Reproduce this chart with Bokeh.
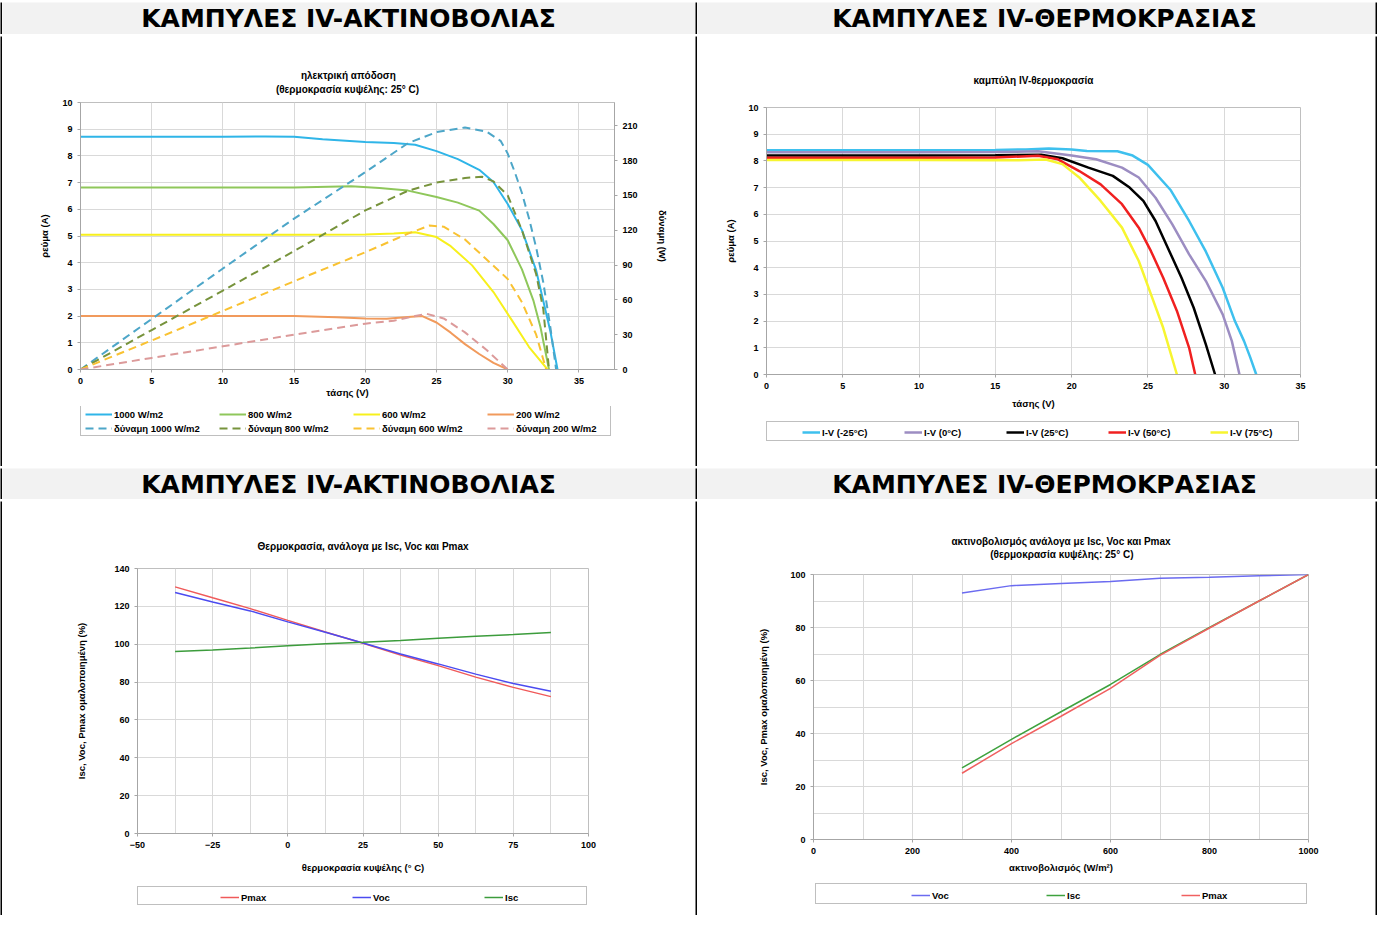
from bokeh.plotting import figure
from bokeh.layouts import column, row
from bokeh.models import (Range1d, LinearAxis, Legend, LegendItem, Label,
                          SingleIntervalTicker, Spacer)
from bokeh.embed import file_html
from bokeh.resources import INLINE

# ---------------- data: chart 1 (IV vs irradiance, 25 C) ----------------
v_1000 = [0, 5, 10, 13, 15, 17, 20, 22, 23.5, 25, 26.5, 28, 29, 30, 31, 32, 33, 33.5]
i_1000 = [8.72, 8.72, 8.72, 8.73, 8.72, 8.62, 8.52, 8.48, 8.42, 8.18, 7.88, 7.48, 7.02, 6.2, 5.22, 3.71, 1.42, 0.0]
v_800 = [0, 5, 10, 15, 19, 21, 23, 25, 26.5, 28, 29, 30, 31, 31.8, 32.3, 32.9]
i_800 = [6.82, 6.82, 6.82, 6.82, 6.86, 6.8, 6.7, 6.46, 6.25, 5.95, 5.45, 4.84, 3.75, 2.59, 1.59, 0.0]
v_600 = [0, 5, 10, 15, 20, 22, 23.5, 25, 26, 27.5, 29, 30.3, 31.5, 32.8]
i_600 = [5.05, 5.05, 5.05, 5.05, 5.06, 5.09, 5.14, 4.96, 4.62, 3.9, 2.9, 1.84, 0.84, 0.0]
v_200 = [0, 5, 10, 15, 18, 20, 21.5, 23, 24, 25, 26, 27, 28, 29, 30]
i_200 = [2.0, 2.0, 2.0, 2.0, 1.96, 1.91, 1.9, 1.97, 2.0, 1.76, 1.38, 0.95, 0.58, 0.25, 0.0]

pv_1000 = [0, 5, 10, 15, 20, 23, 25, 27, 28.5, 29.5, 30, 30.5, 31, 31.5, 32, 32.5, 33, 33.4]
pw_1000 = [0, 43.5, 87, 130, 170, 195, 204.5, 208.5, 205, 197, 186, 170, 152, 130, 105, 75, 36, 0]
pv_800 = [0, 5, 10, 15, 20, 23, 25, 27, 28.2, 29, 30, 31, 32, 32.5, 32.9]
pw_800 = [0, 34, 68, 102, 137, 154, 161, 165, 166, 162, 150, 120, 82, 52, 0]
pv_600 = [0, 5, 10, 15, 20, 23, 24.5, 25.5, 27, 28.5, 30, 31, 32, 32.7]
pw_600 = [0, 25, 50.5, 76, 101, 117, 124, 123, 112, 95, 78, 58, 30, 0]
pv_200 = [0, 5, 10, 15, 20, 22, 23.5, 24.3, 25.5, 27, 28.5, 30]
pw_200 = [0, 10, 20, 30, 39.5, 42, 46, 48, 44, 32, 17, 0]

# ---------------- data: chart 2 (IV vs temperature) ----------------
v_m25 = [0, 5, 10, 15, 17, 18.5, 20, 21, 23, 24, 25, 26.5, 27.7, 28.8, 29.9, 30.7, 31.3, 31.7, 32.1]
i_m25 = [8.4, 8.4, 8.4, 8.41, 8.43, 8.46, 8.43, 8.37, 8.36, 8.2, 7.85, 6.9, 5.75, 4.6, 3.25, 2.0, 1.25, 0.65, 0.0]
v_0 = [0, 5, 10, 15, 17.8, 20, 21.6, 23.3, 24.4, 25.5, 26.6, 27.7, 28.8, 29.9, 30.5, 31]
i_0 = [8.32, 8.32, 8.32, 8.33, 8.36, 8.2, 8.06, 7.75, 7.38, 6.62, 5.62, 4.5, 3.5, 2.25, 1.25, 0.0]
v_25 = [0, 5, 10, 15, 18, 19.4, 21.1, 22.7, 23.8, 24.7, 25.5, 26.3, 27.2, 28, 28.8, 29.4]
i_25 = [8.2, 8.2, 8.2, 8.21, 8.23, 8.1, 7.75, 7.44, 7.0, 6.5, 5.75, 4.75, 3.62, 2.5, 1.12, 0.0]
v_50 = [0, 5, 10, 15, 17.8, 19.1, 20.5, 21.9, 23.3, 24.4, 25.2, 26, 26.9, 27.7, 28.1]
i_50 = [8.12, 8.12, 8.12, 8.13, 8.19, 8.06, 7.62, 7.12, 6.38, 5.5, 4.62, 3.62, 2.38, 1.0, 0.0]
v_75 = [0, 5, 10, 15, 16.5, 18.3, 19.4, 20.5, 21.9, 23.3, 24.4, 25.2, 26, 26.9]
i_75 = [8.03, 8.03, 8.03, 8.02, 8.02, 8.05, 7.88, 7.38, 6.5, 5.5, 4.25, 3.0, 1.75, 0.0]

# ---------------- data: chart 3 (normalised vs temperature) ----------------
temp = [-37.5, -25, -12.5, 0, 12.5, 25, 37.5, 50, 62.5, 75, 87.5]
pmax_t = [130.3, 124.5, 118.8, 112.6, 106.5, 100.5, 94.3, 88.7, 82.6, 77.2, 72.3]
voc_t = [127.3, 122.3, 117.6, 111.8, 106.3, 100.6, 94.8, 89.6, 84.2, 79.2, 75.1]
isc_t = [96.2, 97.0, 98.0, 99.2, 100.2, 101.0, 101.9, 103.2, 104.2, 105.1, 106.2]

# ---------------- data: chart 4 (normalised vs irradiance) ----------------
irr = [300, 400, 500, 600, 700, 800, 900, 1000]
voc_g = [93.0, 95.8, 96.6, 97.4, 98.6, 99.0, 99.5, 100]
isc_g = [27.0, 37.8, 48.2, 58.5, 69.8, 80.0, 90.0, 100]
pmax_g = [25.0, 36.2, 46.5, 57.0, 69.5, 79.8, 90.0, 100]

HEAD_L = "ΚΑΜΠΥΛΕΣ IV-ΑΚΤΙΝΟΒΟΛΙΑΣ"
HEAD_R = "ΚΑΜΠΥΛΕΣ IV-ΘΕΡΜΟΚΡΑΣΙΑΣ"

FONT = "Liberation Sans"
GRID = "#d9d9d9"
AXIS = "#a6a6a6"
DASH = "8 5"
NB = "\u00a0"
TICK_FS = "9px"
LABEL_FS = "9.5px"
TITLE_FS = "10px"

S1 = [dict(line_color="#2fb5e8", line_width=2), dict(line_color="#8fc75b", line_width=2),
      dict(line_color="#f7f01c", line_width=2), dict(line_color="#f19a5c", line_width=2),
      dict(line_color="#4da6c8", line_width=2, line_dash=DASH),
      dict(line_color="#77933c", line_width=2, line_dash=DASH),
      dict(line_color="#f9c232", line_width=2, line_dash=DASH),
      dict(line_color="#dc9a9a", line_width=2, line_dash=DASH)]
S2 = [dict(line_color=c, line_width=2.5) for c in
      ["#3ec0ee", "#9c8dc2", "#000000", "#f02020", "#f7f530"]]
S3 = [dict(line_color=c, line_width=1.5) for c in ["#f05a5a", "#4b4bf0", "#3c9c3c"]]
S4 = [dict(line_color=c, line_width=1.5) for c in ["#6b6bf0", "#3ea23e", "#f06060"]]


def plain(w, h, color, left=0, right=0):
    f = figure(width=w, height=h, min_border=0, min_border_left=left,
               min_border_right=right, toolbar_location=None,
               output_backend="svg", x_range=Range1d(0, 1), y_range=Range1d(0, 1),
               x_axis_type=None, y_axis_type=None,
               background_fill_color=color, border_fill_color=color,
               outline_line_color=None)
    f.xgrid.visible = False
    f.ygrid.visible = False
    return f


def bar(w, h):
    return plain(w, h, "black")


def header(w, h, text, cx):
    f = plain(w, h, "#f2f2f2")
    f.add_layout(Label(x=cx, y=h / 2, x_units="screen", y_units="screen",
                       text=text, text_align="center",
                       text_baseline="middle", text_font="DejaVu Sans",
                       text_font_style="bold", text_font_size="25px",
                       text_color="black"))
    return f


def style_axis(ax, label, standoff, tick_standoff=4):
    ax.axis_label = label
    ax.axis_label_text_font = FONT
    ax.axis_label_text_font_style = "bold"
    ax.axis_label_text_font_size = LABEL_FS
    ax.axis_label_text_color = "black"
    ax.axis_label_standoff = standoff
    ax.major_label_text_font = FONT
    ax.major_label_text_font_style = "bold"
    ax.major_label_text_font_size = TICK_FS
    ax.major_label_text_color = "black"
    ax.major_label_standoff = tick_standoff
    ax.axis_line_color = AXIS
    ax.major_tick_line_color = AXIS
    ax.major_tick_in = 0
    ax.major_tick_out = 3
    ax.minor_tick_line_color = None


def chart(w, h, left, right, top, bottom, xr, yr, title, standoff, lh=1.2):
    p = figure(width=w, height=h, min_border_left=left, min_border_right=right,
               min_border_top=top, min_border_bottom=bottom,
               x_range=Range1d(*xr), y_range=Range1d(*yr), title=title,
               toolbar_location=None, output_backend="svg",
               background_fill_color="white", border_fill_color="white",
               outline_line_color="#bfbfbf")
    p.title.align = "center"
    p.title.text_font = FONT
    p.title.text_font_style = "bold"
    p.title.text_font_size = TITLE_FS
    p.title.text_color = "black"
    p.title.text_line_height = lh
    p.title.standoff = standoff
    p.xgrid.grid_line_color = GRID
    p.ygrid.grid_line_color = GRID
    return p


def legend_fig(w, h, left, right, labels, styles, firsts, ncols, loc, glyph_w, label_w, box):
    """Legend strip under a chart: its frame is aligned with the chart frame."""
    f = plain(w, h, "white", left, right)
    # one-point proxies (a single point draws no line) carry the legend styles
    rs = [f.line(x=[fx], y=[fy], **s) for (fx, fy), s in zip(firsts, styles)]
    bx, by, bw, bh = box
    f.add_layout(Legend(items=[LegendItem(label=" ", renderers=[rs[0]])],
                        location=(bx, by), padding=0, margin=0, spacing=0,
                        glyph_width=0, glyph_height=bh, label_width=bw,
                        label_height=bh, label_standoff=0,
                        border_line_color="#7f7f7f", border_line_width=1,
                        background_fill_color="white", background_fill_alpha=1.0,
                        label_text_font_size="1px"))
    f.add_layout(Legend(items=[LegendItem(label=t, renderers=[r]) for t, r in zip(labels, rs)],
                        location=loc, orientation="horizontal", ncols=ncols,
                        padding=0, margin=0, spacing=2,
                        glyph_width=glyph_w, glyph_height=12, label_height=12,
                        label_width=label_w, label_standoff=2,
                        border_line_color=None, background_fill_alpha=0,
                        label_text_font=FONT, label_text_font_style="bold",
                        label_text_font_size=LABEL_FS, label_text_color="black"))
    return f


# ---------------- chart 1 ----------------
p1 = chart(693, 370, 78, 81, 66, 37, (0, 37.5), (0, 10),
           NB * 9 + "ηλεκτρική απόδοση\n(θερμοκρασία κυψέλης: 25° C)", 15, 1.3)
p1.extra_y_ranges = {"power": Range1d(0, 230)}
p1.xaxis.ticker = SingleIntervalTicker(interval=5)
p1.yaxis.ticker = SingleIntervalTicker(interval=1)
style_axis(p1.xaxis[0], "τάσης (V)", 0, 4)
style_axis(p1.yaxis[0], "ρεύμα (A)", 9)
rax = LinearAxis(y_range_name="power", ticker=SingleIntervalTicker(interval=30))
style_axis(rax, "δύναμη (W)", 16)
p1.add_layout(rax, "right")
p1.line(v_1000, i_1000, **S1[0])
p1.line(v_800, i_800, **S1[1])
p1.line(v_600, i_600, **S1[2])
p1.line(v_200, i_200, **S1[3])
p1.line(pv_1000, pw_1000, y_range_name="power", **S1[4])
p1.line(pv_800, pw_800, y_range_name="power", **S1[5])
p1.line(pv_600, pw_600, y_range_name="power", **S1[6])
p1.line(pv_200, pw_200, y_range_name="power", **S1[7])
L1 = ["1000 W/m2", "800 W/m2", "600 W/m2", "200 W/m2",
      "δύναμη 1000 W/m2", "δύναμη 800 W/m2", "δύναμη 600 W/m2", "δύναμη 200 W/m2"]
F1 = [(v_1000[0], i_1000[0]), (v_800[0], i_800[0]), (v_600[0], i_600[0]), (v_200[0], i_200[0]),
      (pv_1000[0], pw_1000[0]), (pv_800[0], pw_800[0]), (pv_600[0], pw_600[0]), (pv_200[0], pw_200[0])]
lg1 = legend_fig(693, 60, 78, 81, L1, S1, F1, 4, (5, 32), 27, 103, (0, 30, 529, 29))

# ---------------- chart 2 ----------------
p2 = chart(678, 370, 69, 75, 66, 37, (0, 35), (0, 10), "καμπύλη IV-θερμοκρασία", 43)
p2.xaxis.ticker = SingleIntervalTicker(interval=5)
p2.yaxis.ticker = SingleIntervalTicker(interval=1)
style_axis(p2.xaxis[0], "τάσης (V)", 6, 4)
style_axis(p2.yaxis[0], "ρεύμα (A)", 9)
p2.line(v_m25, i_m25, **S2[0])
p2.line(v_0, i_0, **S2[1])
p2.line(v_25, i_25, **S2[2])
p2.line(v_50, i_50, **S2[3])
p2.line(v_75, i_75, **S2[4])
L2 = ["I-V (-25°C)", "I-V (0°C)", "I-V (25°C)", "I-V (50°C)", "I-V (75°C)"]
F2 = [(v_m25[0], i_m25[0]), (v_0[0], i_0[0]), (v_25[0], i_25[0]), (v_50[0], i_50[0]), (v_75[0], i_75[0])]
lg2 = legend_fig(678, 55, 69, 75, L2, S2, F2, 5, (36, 28), 18, 80, (0, 25, 531, 18))

# ---------------- chart 3 ----------------
p3 = chart(693, 374, 135, 107, 67, 42, (-50, 100), (0, 140),
           "Θερμοκρασία, ανάλογα με Isc, Voc και Pmax", 33)
p3.xaxis.ticker = SingleIntervalTicker(interval=25)
p3.yaxis.ticker = SingleIntervalTicker(interval=20)
p3.xgrid.ticker = SingleIntervalTicker(interval=12.5)
style_axis(p3.xaxis[0], "θερμοκρασία κυψέλης (° C)", 11, 4)
style_axis(p3.yaxis[0], "Isc, Voc, Pmax ομαλοποιημένη (%)", 24)
p3.line(temp, pmax_t, **S3[0])
p3.line(temp, voc_t, **S3[1])
p3.line(temp, isc_t, **S3[2])
F3 = [(temp[0], pmax_t[0]), (temp[0], voc_t[0]), (temp[0], isc_t[0])]
lg3 = legend_fig(693, 40, 135, 107, ["Pmax", "Voc", "Isc"], S3, F3, 3, (83, 12), 19, 109,
                 (0, 10, 448, 17))

# ---------------- chart 4 ----------------
p4 = chart(678, 374, 116, 67, 67, 42, (0, 1000), (0, 100),
           "ακτινοβολισμός ανάλογα με Isc, Voc και Pmax\n" + NB * 14 + "(θερμοκρασία κυψέλης: 25° C)",
           28, 1.2)
p4.xaxis.ticker = SingleIntervalTicker(interval=200)
p4.yaxis.ticker = SingleIntervalTicker(interval=20)
p4.xgrid.ticker = SingleIntervalTicker(interval=100)
p4.ygrid.ticker = SingleIntervalTicker(interval=10)
style_axis(p4.xaxis[0], "ακτινοβολισμός (W/m²)", 5, 4)
style_axis(p4.yaxis[0], "Isc, Voc, Pmax ομαλοποιημένη (%)", 18)
p4.line(irr, voc_g, **S4[0])
p4.line(irr, isc_g, **S4[1])
p4.line(irr, pmax_g, **S4[2])
F4 = [(irr[0], voc_g[0]), (irr[0], isc_g[0]), (irr[0], pmax_g[0])]
lg4 = legend_fig(678, 34, 116, 67, ["Voc", "Isc", "Pmax"], S4, F4, 3, (98, 14), 19, 112,
                 (2, 11, 490, 19))

# ---------------- table layout ----------------
TOTAL_W = 1377
hdr1 = column(bar(TOTAL_W, 2),
              row(bar(2, 32), header(693, 32, HEAD_L, 346), bar(2, 32),
                  header(678, 32, HEAD_R, 347), bar(2, 32)),
              bar(TOTAL_W, 2))
cell1 = column(p1, lg1)
cell2 = column(Spacer(width=678, height=5), p2, lg2)
row1 = row(bar(2, 430), cell1, bar(2, 430), cell2, bar(2, 430))
hdr2 = column(bar(TOTAL_W, 2),
              row(bar(2, 31), header(693, 31, HEAD_L, 346), bar(2, 31),
                  header(678, 31, HEAD_R, 347), bar(2, 31)),
              bar(TOTAL_W, 2))
cell3 = column(p3, lg3)
cell4 = column(Spacer(width=678, height=6), p4, lg4)
row2 = row(bar(2, 414), cell3, bar(2, 414), cell4, bar(2, 414))

page = column(hdr1, row1, hdr2, row2)

open("out.html", "w").write(file_html(page, INLINE))
